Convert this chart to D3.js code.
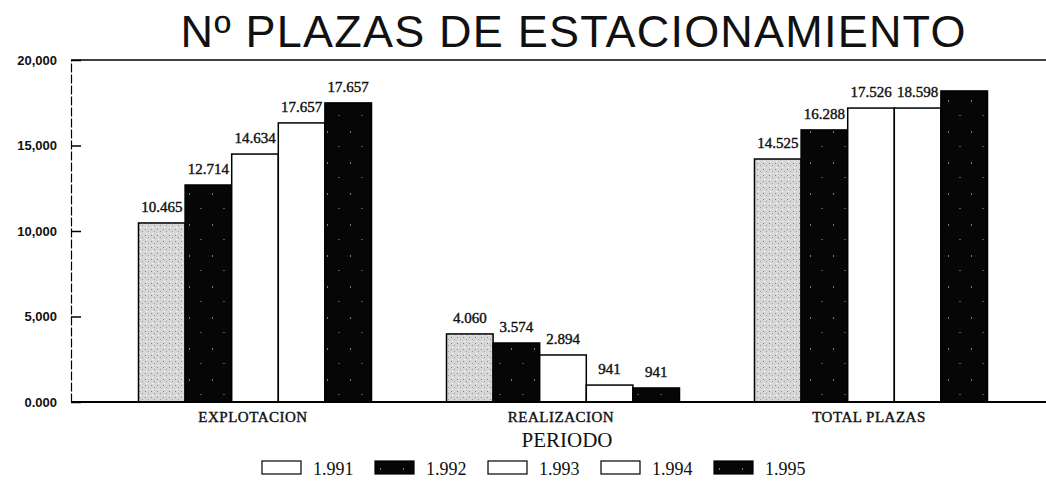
<!DOCTYPE html>
<html>
<head>
<meta charset="utf-8">
<script src="https://cdn.jsdelivr.net/npm/d3@7"></script>
<style>
  body { margin: 0; background: #fff; }
  svg { display: block; }
</style>
</head>
<body>
<div id="chart"></div>
<script>
// data
const categories = ['EXPLOTACION', 'REALIZACION', 'TOTAL PLAZAS']
const years = ['1.991', '1.992', '1.993', '1.994', '1.995']

// bar heights (as drawn)
const v1991 = [10470, 3980, 14210]
const v1992 = [12690, 3450, 15910]
const v1993 = [14500, 2750, 17190]
const v1994 = [16320, 990, 17190]
const v1995 = [17490, 820, 18190]

// printed value labels
const lab1991 = ['10.465', '4.060', '14.525']
const lab1992 = ['12.714', '3.574', '16.288']
const lab1993 = ['14.634', '2.894', '17.526']
const lab1994 = ['17.657', '941', '18.598']
const lab1995 = ['17.657', '941', '']

const yTicks = [0, 5000, 10000, 15000, 20000]
const yTickLabels = ['0.000', '5,000', '10,000', '15,000', '20,000']

const values = [v1991, v1992, v1993, v1994, v1995]
const labels = [lab1991, lab1992, lab1993, lab1994, lab1995]
const fills = ['url(#grey)', 'url(#dark)', '#fff', '#fff', 'url(#dark)']

const width = 1046
const height = 483

const bars = []
categories.forEach((c, ci) => {
    years.forEach((yr, yi) => {
        bars.push({ cat: c, year: yr, yi: yi, value: values[yi][ci], label: labels[yi][ci] })
    })
})

const svg = d3.select('#chart').append('svg').attr('width', width).attr('height', height)

// textures for scanned fills
const defs = svg.append('defs')
const grey = defs.append('pattern').attr('id', 'grey').attr('patternUnits', 'userSpaceOnUse')
    .attr('width', 6).attr('height', 6)
grey.append('rect').attr('width', 6).attr('height', 6).attr('fill', '#d6d6d6')
grey.append('rect').attr('x', 1).attr('y', 1).attr('width', 1).attr('height', 1).attr('fill', '#888')
grey.append('rect').attr('x', 4).attr('y', 3).attr('width', 1).attr('height', 1).attr('fill', '#999')
grey.append('rect').attr('x', 2).attr('y', 5).attr('width', 1).attr('height', 1).attr('fill', '#fff')
const dark = defs.append('pattern').attr('id', 'dark').attr('patternUnits', 'userSpaceOnUse')
    .attr('width', 23).attr('height', 31)
dark.append('rect').attr('width', 23).attr('height', 31).attr('fill', '#060606')
dark.append('rect').attr('x', 5).attr('y', 7).attr('width', 1).attr('height', 2).attr('fill', '#777')
dark.append('rect').attr('x', 16).attr('y', 22).attr('width', 2).attr('height', 1).attr('fill', '#555')

const x0 = d3.scaleBand()
    .domain(categories)
    .range([101, 1025])
    .paddingInner(0.2435)
    .paddingOuter(0.12175)

const x1 = d3.scaleBand()
    .domain(years)
    .range([0, x0.bandwidth()])

const y = d3.scaleLinear()
    .domain([0, 20000])
    .range([402, 60])

// title
svg.append('text')
    .attr('x', 573)
    .attr('y', 47)
    .attr('text-anchor', 'middle')
    .attr('textLength', 785)
    .style('font', '45px "Liberation Sans", Arial, sans-serif')
    .attr('fill', '#111')
    .text('Nº PLAZAS DE ESTACIONAMIENTO')

// frame lines
svg.append('line')
    .attr('x1', 71).attr('x2', width)
    .attr('y1', y(20000)).attr('y2', y(20000))
    .attr('stroke', '#000').attr('stroke-width', 1.5)

// y axis with inward ticks
const yAxis = d3.axisLeft(y)
    .tickValues(yTicks)
    .tickFormat((d, i) => yTickLabels[i])
    .tickSizeInner(-10)
    .tickSizeOuter(0)
    .tickPadding(14)

const ga = svg.append('g')
    .attr('transform', 'translate(71,0)')
    .call(yAxis)
ga.select('.domain').attr('stroke-dasharray', '9 2').attr('stroke-width', 1.2)
ga.selectAll('.tick line').attr('stroke-width', 1.5)
ga.selectAll('.tick text')
    .style('font', 'bold 13px "Liberation Sans", Arial, sans-serif')
    .attr('fill', '#111')

// bars
svg.append('g')
    .selectAll('rect')
    .data(bars)
    .join('rect')
    .attr('x', d => x0(d.cat) + x1(d.year))
    .attr('y', d => y(d.value))
    .attr('width', x1.bandwidth())
    .attr('height', d => y(0) - y(d.value))
    .attr('fill', d => fills[d.yi])
    .attr('stroke', '#000')
    .attr('stroke-width', 1.5)

// bottom line
svg.append('line')
    .attr('x1', 71).attr('x2', width)
    .attr('y1', y(0)).attr('y2', y(0))
    .attr('stroke', '#000').attr('stroke-width', 2)

// value labels
svg.append('g')
    .style('font', '15px "Liberation Serif", "Times New Roman", serif')
    .attr('fill', '#111')
    .attr('stroke', '#111')
    .attr('stroke-width', 0.4)
    .selectAll('text')
    .data(bars.filter(d => d.label !== ''))
    .join('text')
    .attr('x', d => x0(d.cat) + x1(d.year) + x1.bandwidth() / 2)
    .attr('y', d => y(d.value) - 11)
    .attr('text-anchor', 'middle')
    .text(d => d.label)

// category labels
svg.append('g')
    .style('font', '15px "Liberation Serif", "Times New Roman", serif')
    .style('letter-spacing', '0.5px')
    .attr('fill', '#111')
    .attr('stroke', '#111')
    .attr('stroke-width', 0.4)
    .selectAll('text')
    .data(categories)
    .join('text')
    .attr('x', d => x0(d) + x0.bandwidth() / 2 - 2)
    .attr('y', 422)
    .attr('text-anchor', 'middle')
    .text(d => d)

svg.append('text')
    .attr('x', 567)
    .attr('y', 447)
    .attr('text-anchor', 'middle')
    .style('font', '21px "Liberation Serif", "Times New Roman", serif')
    .attr('fill', '#111')
    .text('PERIODO')

// legend
const lx = d3.scalePoint().domain(years).range([262, 714])
const leg = svg.append('g')
    .selectAll('g')
    .data(years)
    .join('g')
    .attr('transform', d => `translate(${lx(d)},461)`)
leg.append('rect')
    .attr('width', 39)
    .attr('height', 13)
    .attr('fill', (d, i) => i === 0 ? '#fff' : fills[i])
    .attr('stroke', '#000')
    .attr('stroke-width', 1.2)
leg.append('text')
    .attr('x', 51)
    .attr('y', 14)
    .style('font', '18px "Liberation Serif", "Times New Roman", serif')
    .attr('fill', '#111')
    .text(d => d)
</script>
</body>
</html>
